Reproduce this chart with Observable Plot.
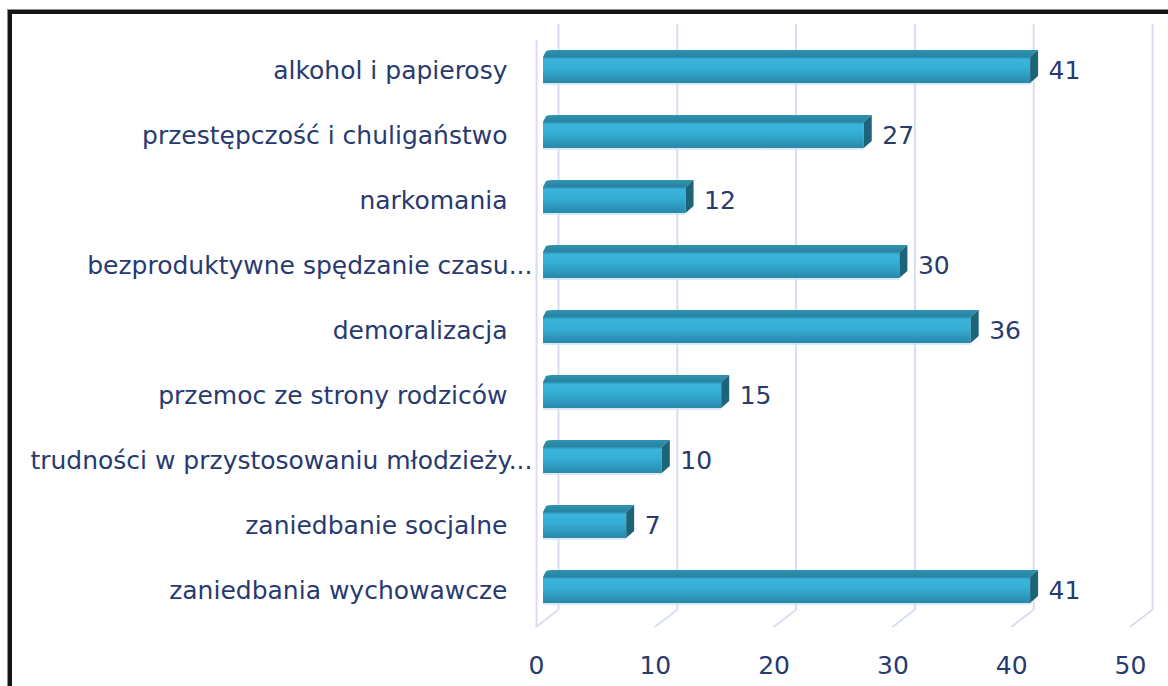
<!DOCTYPE html>
<html><head><meta charset="utf-8">
<script src="https://cdn.jsdelivr.net/npm/d3@7"></script>
<script src="https://cdn.jsdelivr.net/npm/@observablehq/plot@0.6"></script>
<style>
html,body{margin:0;padding:0;background:#fff;width:1168px;height:686px;overflow:hidden;}
#wrap{position:relative;width:1168px;height:686px;overflow:hidden;}
#chart{position:absolute;left:0;top:0;}
#border{position:absolute;left:8px;top:10px;width:1220px;height:740px;border:4px solid #151515;box-shadow:0 0 0 1px #8a8a8a;box-sizing:border-box;pointer-events:none;}
</style></head><body>
<div id="wrap"><div id="chart"></div><div id="border"></div></div>
<script>
const categories = [
  "alkohol i papierosy",
  "przestępczość i chuligaństwo",
  "narkomania",
  "bezproduktywne spędzanie czasu...",
  "demoralizacja",
  "przemoc ze strony rodziców",
  "trudności w przystosowaniu młodzieży...",
  "zaniedbanie socjalne",
  "zaniedbania wychowawcze"
];
const values = [41, 27, 12, 30, 36, 15, 10, 7, 41];
const xTicks = [0, 10, 20, 30, 40, 50];

const data = categories.map((label, i) => ({label, value: values[i]}));

const TEXT = "#283a6e";
const GRID = "#d6def0";
const WALL_DX = 22;     // depth of the back wall
const BAR_DX = 7;       // bar front face offset
const FACE_DX = 8, FACE_DY = 7; // bar depth

function bw(y) { return typeof y.bandwidth === "function" ? y.bandwidth() : y.bandwidth; }

function defsMark() {
  const g = d3.create("svg:defs");
  const f = g.append("linearGradient").attr("id", "gFront").attr("x1", 0).attr("x2", 0).attr("y1", 0).attr("y2", 1);
  [[0, "#2a8db0"], [0.1, "#3ab5dc"], [0.45, "#35add4"], [1, "#2888aa"]].forEach(([o, c]) => f.append("stop").attr("offset", o).attr("stop-color", c));
  const t = g.append("linearGradient").attr("id", "gTop").attr("x1", 0).attr("x2", 0).attr("y1", 0).attr("y2", 1);
  [[0, "#2f93b0"], [1, "#2783a0"]].forEach(([o, c]) => t.append("stop").attr("offset", o).attr("stop-color", c));
  return g.node();
}

function floorMark(index, scales, vals, dim) {
  const x = scales.x;
  const g = d3.create("svg:g").attr("stroke", GRID).attr("stroke-width", 2).attr("fill", "none");
  const yb = dim.height - dim.marginBottom;
  for (const v of xTicks) {
    g.append("line")
      .attr("x1", x(v)).attr("y1", yb + 4.5)
      .attr("x2", x(v) + WALL_DX).attr("y2", yb - 12.5);
  }
  return g.node();
}

function facesMark(index, scales) {
  const x = scales.x, y = scales.y, h = bw(y);
  const g = d3.create("svg:g");
  for (const d of data) {
    const X0 = x(0) + BAR_DX, X1 = x(d.value) + BAR_DX, Yt = y(d.label), Yb = Yt + h;
    g.append("path").attr("fill", "url(#gTop)")
      .attr("d", `M${X0},${Yt}L${X0 + 3},${Yt - FACE_DY + 1}Q${X0 + 5},${Yt - FACE_DY} ${X0 + FACE_DX + 2},${Yt - FACE_DY}L${X1 + FACE_DX},${Yt - FACE_DY}L${X1},${Yt}Z`);
    g.append("path").attr("fill", "#1d6479")
      .attr("d", `M${X1},${Yt}L${X1 + FACE_DX},${Yt - FACE_DY}L${X1 + FACE_DX},${Yb - FACE_DY}L${X1},${Yb}Z`);
    g.append("line").attr("stroke", "#cfe3ee").attr("stroke-width", 1.5)
      .attr("x1", X0).attr("x2", X1).attr("y1", Yb + 1).attr("y2", Yb + 1);
  }
  return g.node();
}

const chart = Plot.plot({
  width: 1168,
  height: 686,
  marginLeft: 536,
  marginRight: 38,
  marginTop: 37.5,
  marginBottom: 63.5,
  style: {fontFamily: "DejaVu Sans", fontSize: "25px", color: TEXT, background: "transparent", overflow: "visible"},
  x: {domain: [0, 50], ticks: xTicks, tickSize: 0, tickPadding: 33, label: null},
  y: {domain: categories, paddingInner: 0.6, paddingOuter: 0.3, tickSize: 0, tickPadding: 4, label: null,
      tickFormat: d => d.endsWith("...") ? d : d + "\u2003"},
  marks: [
    defsMark,
    Plot.ruleX(xTicks, {x: d => d, dx: WALL_DX, stroke: GRID, strokeWidth: 2, insetTop: -13.5, insetBottom: 12.5}),
    Plot.ruleX([0], {x: d => d, stroke: GRID, strokeWidth: 2, insetTop: 2.5, insetBottom: -4.5}),
    floorMark,
    Plot.barX(data, {x: "value", y: "label", dx: BAR_DX, fill: "url(#gFront)"}),
    facesMark,
    Plot.text(data, {x: "value", y: "label", text: d => String(d.value), dx: BAR_DX + FACE_DX + 10, textAnchor: "start", fill: TEXT, fontSize: 25})
  ]
});
document.getElementById("chart").appendChild(chart);
</script>
</body></html>
